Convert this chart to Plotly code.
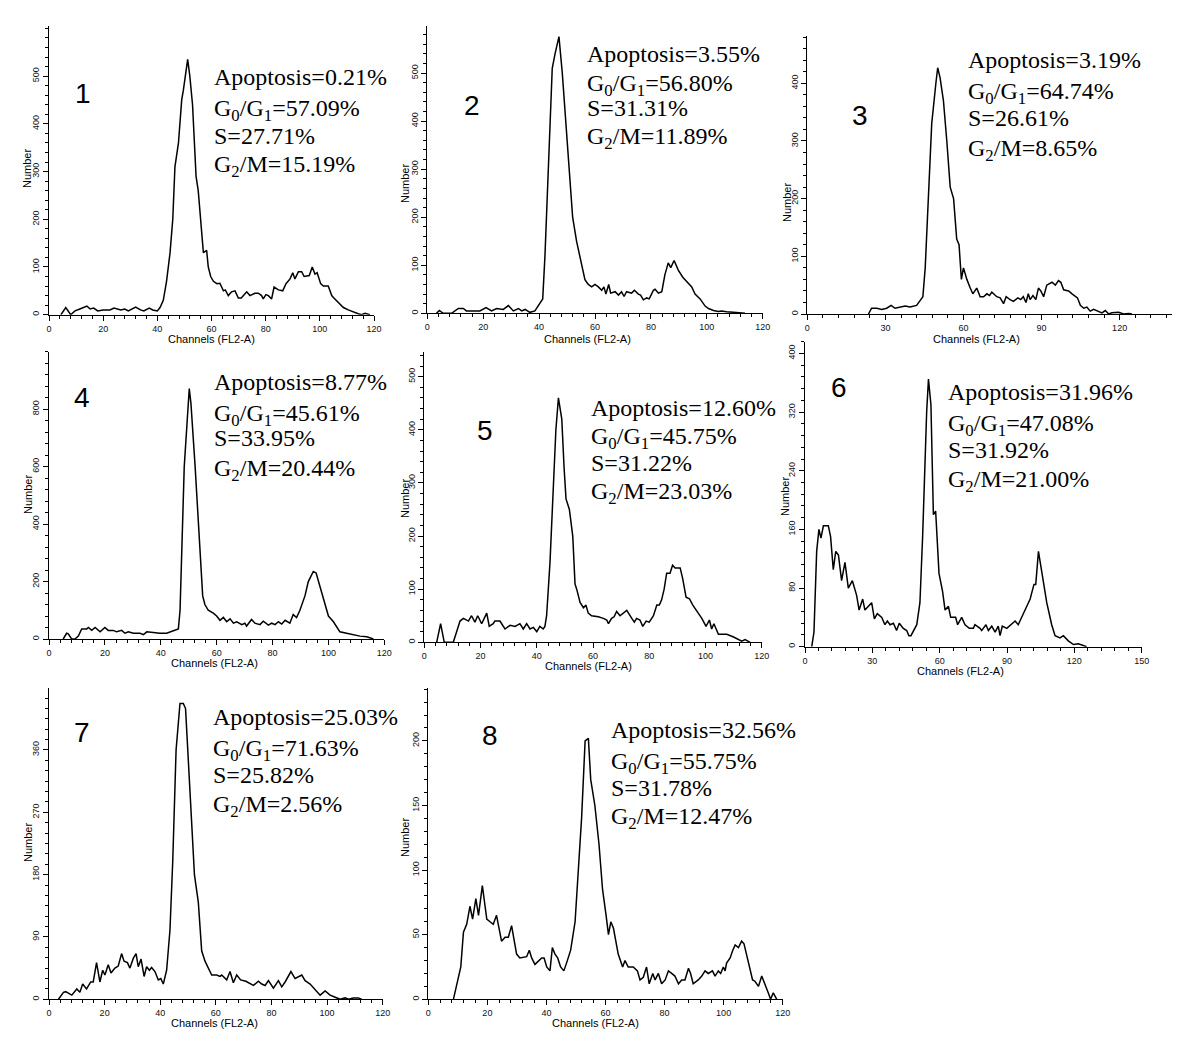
import plotly.graph_objects as go

# ---------------- data ----------------
ch1 = [4.4, 6.2, 8, 9.6, 11.4, 14, 15.2, 16.5, 18, 20, 22.5, 24, 26.5, 28, 29.3, 32, 33.8, 35, 37, 38.3, 40, 41, 42.2, 43.4, 44.7, 45.7, 46.5, 47.8, 49, 49.6, 51.2, 52, 53, 54.3, 55.1, 56.1, 57, 58.2, 58.8, 59.7, 60.7, 62, 63.1, 64.4, 65.1, 66.2, 67.4, 68.7, 69.9, 71, 73, 74.2, 76, 77.3, 78.5, 79.1, 80.1, 81, 82.2, 83.1, 84.7, 86.3, 87.5, 89, 90, 90.8, 92.1, 93.3, 94.2, 96.1, 97.2, 98.2, 99, 100.3, 101.3, 103.1, 104.4, 105, 106.8, 108.7, 110.5, 112.4, 114.2, 115.4, 116.7, 118.5]
cnt1 = [0, 15, 0, 8, 12, 18, 12, 14, 8, 10, 10, 14, 10, 12, 8, 16, 10, 8, 14, 10, 8, 15, 30, 70, 130, 200, 310, 360, 450, 470, 535, 500, 440, 290, 260, 200, 130, 135, 100, 80, 70, 65, 66, 50, 52, 40, 48, 50, 35, 35, 48, 40, 45, 45, 40, 33, 42, 40, 33, 58, 52, 50, 65, 75, 88, 75, 90, 90, 80, 82, 100, 85, 88, 65, 60, 60, 40, 36, 25, 15, 10, 5, 2, 0, 3, 0]

ch2 = [3.3, 4.3, 5.7, 8.7, 11.1, 12.9, 14, 18.8, 21, 23, 24.8, 27.2, 29, 30.8, 32.6, 33.8, 35, 36.7, 38.5, 40.3, 41.3, 42.1, 43.1, 44.7, 45.7, 47.1, 48.3, 49.5, 50.7, 52, 53.4, 55.2, 56.4, 57.6, 58.8, 60, 61.2, 62.4, 63.2, 63.9, 64.9, 65.6, 67.2, 68.4, 69.5, 70.4, 71.3, 73.1, 74.1, 75.5, 76.3, 77.3, 78.5, 79.4, 80.9, 81.5, 82.7, 83.9, 85, 86.2, 87.1, 88.3, 89.8, 91.4, 93, 94.6, 95.8, 97.6, 99.4, 100.6, 102.4, 104.1, 105.3, 107.1, 109.5, 111.3, 113.7]
cnt2 = [0, 6, 0, 0, 10, 10, 5, 5, 12, 5, 10, 8, 16, 5, 10, 5, 8, 2, 5, 20, 30, 120, 260, 510, 540, 576, 500, 400, 300, 200, 150, 100, 70, 60, 55, 60, 55, 48, 55, 40, 60, 42, 45, 38, 45, 35, 45, 42, 48, 40, 38, 28, 32, 30, 48, 50, 42, 45, 80, 105, 95, 110, 90, 75, 65, 55, 40, 30, 15, 10, 6, 4, 5, 3, 2, 1, 0]

ch3 = [23.5, 24.7, 26.7, 28.6, 30.5, 32.2, 33.7, 36.3, 37.6, 39.5, 42, 43.6, 44.4, 45.3, 47.8, 49.4, 50.1, 51, 52.3, 53.6, 54.9, 56.2, 57.4, 58.3, 59.2, 60, 61.3, 62.6, 63.6, 65.1, 66.4, 67.7, 69, 70, 70.9, 72.8, 74.1, 75.4, 76.4, 77.9, 79.2, 80.9, 82, 83, 84, 84.9, 85.6, 86.7, 87.8, 88.8, 89.7, 90.8, 92, 94, 95.3, 96.5, 97.4, 98.5, 100.4, 101.7, 103.3, 103.8, 104.9, 106.2, 107.4, 108.7, 110, 111.3, 113.2, 114.5, 115.8, 117, 119.6, 121.5, 123.5, 124.7]
cnt3 = [0, 10, 10, 8, 10, 15, 10, 12, 14, 12, 15, 25, 30, 80, 330, 400, 427, 410, 370, 300, 220, 200, 130, 120, 60, 80, 60, 45, 35, 45, 30, 30, 35, 32, 38, 30, 28, 18, 30, 25, 22, 28, 25, 30, 20, 35, 25, 32, 25, 45, 40, 30, 50, 55, 50, 58, 55, 42, 40, 35, 30, 28, 15, 10, 12, 5, 8, 5, 2, 6, 0, 2, 3, 0, 1, 0]

ch4 = [5.1, 6.3, 6.9, 8.1, 9.3, 10.5, 11.7, 13.5, 14.1, 15.3, 16.5, 18.3, 20, 21.2, 23, 24.2, 26, 27.2, 28.4, 30.2, 32.6, 33.8, 35, 37.3, 39.7, 42.1, 43.3, 45.1, 46.3, 46.9, 47.5, 48.4, 50.2, 50.8, 52.3, 53.4, 54.3, 55, 55.8, 57, 58.8, 60, 61.2, 62.4, 63.6, 64.8, 66, 67.2, 69, 70.1, 70.7, 71.9, 72.5, 73.7, 75.5, 76.7, 78.5, 79.7, 80.9, 82.1, 83.3, 84.5, 86.2, 87.4, 88.6, 89.8, 91.6, 92.8, 94.6, 95.6, 97, 98.2, 100, 101.8, 103, 104.1, 106.5, 108.9, 111.3, 113.7, 114.9, 116.1]
cnt4 = [0, 20, 18, 0, 0, 10, 35, 35, 40, 30, 40, 25, 40, 30, 30, 25, 30, 20, 25, 20, 20, 15, 25, 22, 20, 20, 25, 30, 35, 100, 300, 600, 872, 820, 600, 400, 250, 150, 120, 100, 90, 80, 65, 75, 60, 70, 55, 60, 50, 55, 45, 60, 68, 55, 50, 62, 48, 55, 50, 60, 52, 65, 55, 85, 75, 100, 150, 200, 235, 230, 180, 140, 80, 60, 40, 25, 20, 15, 10, 8, 5, 0]

ch5 = [4.4, 5.8, 7.1, 10.3, 11.5, 12.7, 13.9, 15.7, 16.8, 18, 19, 20.4, 22.2, 23.1, 24.5, 25.1, 26.9, 28.7, 30.5, 32.3, 34, 35.2, 36.4, 37.6, 38.8, 40, 41.1, 42.3, 42.9, 43.5, 44.7, 45.9, 46.8, 47.7, 48.9, 49.7, 50.4, 51.6, 52.8, 53.6, 54.2, 55.4, 56.6, 57.5, 58.3, 59.5, 61.9, 63.7, 64.9, 65.5, 66.6, 67.5, 68.4, 69.6, 70.8, 72, 73.8, 74.7, 75.5, 76.7, 77.7, 78.9, 80, 81.5, 82.7, 83.6, 84.4, 85.3, 86.2, 87.4, 88.3, 89.2, 91, 91.9, 93.1, 94.3, 95.5, 96.9, 98.7, 100.2, 101.4, 102.2, 103, 104.6, 107.6, 110, 111.7, 112.9, 114.1, 115.9]
cnt5 = [0, 35, 0, 0, 20, 40, 45, 40, 50, 38, 50, 35, 55, 30, 35, 40, 40, 25, 32, 30, 35, 25, 35, 25, 28, 20, 30, 25, 30, 50, 150, 300, 400, 460, 420, 330, 270, 250, 200, 110, 100, 75, 65, 70, 55, 50, 48, 45, 42, 35, 45, 48, 58, 50, 55, 60, 45, 38, 45, 42, 30, 40, 38, 50, 70, 70, 80, 100, 130, 130, 145, 140, 140, 120, 85, 82, 70, 60, 45, 30, 42, 25, 35, 15, 15, 10, 5, 2, 5, 0]

ch6 = [3, 4, 5.2, 6.2, 7.1, 8.2, 10.4, 11.4, 12.6, 13.7, 14.9, 16.3, 17.8, 19.3, 21.1, 23, 24.1, 25.7, 26.7, 29.7, 30.9, 32.2, 34.2, 35.6, 36.7, 37.9, 39.4, 40.8, 42, 43.8, 45.3, 46.3, 47.2, 49, 49.8, 51.2, 52.4, 54.2, 55, 56.1, 57.2, 58.2, 59.7, 61.3, 62.4, 63.9, 64.9, 67.1, 68, 69.8, 71.3, 73.2, 75, 75.7, 78, 78.7, 80.6, 81.7, 83.2, 84.7, 86.1, 86.9, 87.9, 89.9, 91.6, 93.6, 95, 97.3, 100.3, 102, 102.8, 104, 105.5, 107.7, 109.9, 111.4, 113.6, 115.1, 117.3, 119.6, 121.8, 124, 125.5]
cnt6 = [0, 20, 130, 160, 148, 165, 165, 150, 105, 130, 125, 90, 115, 80, 90, 70, 50, 65, 50, 60, 38, 45, 40, 30, 35, 30, 32, 22, 32, 25, 22, 15, 15, 25, 30, 60, 150, 320, 365, 330, 180, 185, 100, 75, 50, 55, 40, 40, 30, 40, 30, 25, 25, 30, 25, 22, 30, 22, 28, 20, 28, 15, 28, 25, 30, 35, 30, 45, 65, 85, 85, 130, 100, 60, 30, 15, 12, 15, 8, 3, 4, 1, 0]

ch7 = [3.4, 5.2, 6, 8.2, 10, 11.1, 12.1, 13.5, 15, 15.9, 17.1, 18.3, 19.3, 20.1, 21.3, 22.3, 23.7, 24.9, 26.1, 27, 28.2, 29.1, 30.3, 31.3, 32.1, 33.1, 34.2, 35.1, 36.1, 36.9, 38.1, 39.3, 40.2, 41.1, 42.3, 43.5, 44.5, 45.7, 47.1, 48.3, 49.1, 50.7, 52.3, 53.7, 54.9, 56.1, 57.3, 58.5, 60.3, 61.5, 62.1, 63.9, 65.1, 66.3, 67.5, 68.9, 70.8, 73.5, 75.3, 76.5, 77.7, 78.9, 80.7, 82.5, 83.7, 84.9, 87, 88.5, 90.9, 92.1, 93.9, 95.7, 97.5, 99.3, 101.1, 102.9, 104.7, 106.5, 107.7, 109.4, 111.2, 112.4]
cnt7 = [0, 10, 11, 6, 15, 10, 22, 15, 25, 25, 53, 25, 42, 35, 50, 38, 45, 48, 66, 55, 53, 45, 59, 66, 47, 58, 33, 47, 42, 46, 40, 28, 30, 22, 42, 100, 200, 360, 427, 427, 420, 300, 180, 140, 70, 55, 45, 35, 35, 33, 35, 28, 40, 24, 35, 28, 26, 20, 26, 22, 20, 27, 16, 27, 18, 25, 40, 30, 35, 27, 22, 14, 6, 12, 6, 3, 0, 2, 0, 2, 2, 0]

ch8 = [8.5, 9.6, 11, 11.9, 13, 14.1, 15, 16.1, 17, 18.3, 19.8, 20.9, 22, 23.1, 24, 24.8, 26, 27.1, 28.2, 29, 29.9, 31, 33.3, 34.2, 35, 36.1, 37.3, 38.4, 39.2, 40.1, 41.2, 42, 42.9, 43.8, 44.8, 45.9, 46.8, 48.2, 49.7, 50.8, 51.9, 53.1, 54.2, 55, 56.4, 57.8, 59, 60.2, 61, 61.8, 62.7, 64.3, 65.8, 66.6, 67.7, 69.4, 70.8, 71.7, 72.8, 73.9, 74.8, 76, 76.8, 77.9, 79, 80.2, 81.3, 82.4, 83.5, 84.7, 85.8, 86.9, 88.1, 88.8, 89.7, 91.4, 92.6, 93.7, 94.8, 96.2, 97.1, 98.2, 99, 99.9, 100.5, 101, 102.2, 103.1, 103.9, 105, 106.1, 106.9, 107.8, 108.9, 109.8, 110.6, 111.8, 112.9, 114, 115.1, 115.9, 116.8, 118]
cnt8 = [0, 10, 25, 52, 58, 72, 62, 78, 65, 88, 62, 60, 58, 65, 55, 45, 48, 48, 57, 45, 35, 32, 33, 38, 32, 27, 30, 32, 32, 25, 22, 40, 35, 32, 25, 22, 28, 38, 60, 100, 140, 200, 202, 170, 150, 120, 85, 65, 50, 60, 55, 35, 25, 30, 25, 25, 22, 15, 17, 25, 12, 20, 15, 20, 12, 15, 22, 20, 18, 12, 15, 15, 24, 20, 12, 15, 18, 22, 20, 22, 18, 22, 20, 25, 22, 28, 32, 38, 42, 40, 45, 43, 35, 25, 15, 14, 10, 18, 12, 5, 0, 5, 0]

panel_labels = ["1", "2", "3", "4", "5", "6", "7", "8"]
apoptosis = ["0.21%", "3.55%", "3.19%", "8.77%", "12.60%", "31.96%", "25.03%", "32.56%"]
g0g1 = ["57.09%", "56.80%", "64.74%", "45.61%", "45.75%", "47.08%", "71.63%", "55.75%"]
s_phase = ["27.71%", "31.31%", "26.61%", "33.95%", "31.22%", "31.92%", "25.82%", "31.78%"]
g2m = ["15.19%", "11.89%", "8.65%", "20.44%", "23.03%", "21.00%", "2.56%", "12.47%"]
# highest labelled y tick in each panel
y_label_max = [500, 500, 400, 800, 500, 400, 360, 200]
x_title = "Channels (FL2-A)"
y_title = "Number"

channels = [ch1, ch2, ch3, ch4, ch5, ch6, ch7, ch8]
counts = [cnt1, cnt2, cnt3, cnt4, cnt5, cnt6, cnt7, cnt8]

# ---------------- layout geometry (pixels in the target picture) ----------------
W, H = 1200, 1057
OFF = 8  # page body margin in the browser
# x0, x1, ytop, ybottom, xmax, ymax, xdtick, xminor, ydtick, yminor
geo = [
    (49.0, 374.0, 26.0, 314.7, 120, 605, 20, 4, 100, 20),
    (427.3, 762.7, 26.0, 313.3, 120, 598, 20, 4, 100, 20),
    (807.3, 1171.7, 36.0, 314.0, 140, 482, 30, 6, 100, 20),
    (49.0, 384.3, 351.7, 639.0, 120, 1000, 20, 4, 200, 40),
    (424.3, 761.7, 351.7, 642.3, 120, 547, 20, 4, 100, 20),
    (805.0, 1141.7, 341.7, 646.7, 150, 416, 30, 6, 80, 16),
    (49.0, 382.7, 688.3, 999.3, 120, 449, 20, 4, 90, 15),
    (428.3, 782.7, 688.3, 999.3, 120, 240.7, 20, 4, 50, 10),
]
# panel number centre, stats left x, stats line centres
num_pos = [(83, 93), (472, 105), (860, 115), (82, 397), (485, 430), (839, 387), (82, 732), (490, 735)]
stat_x = [212, 585, 966, 212, 589, 946, 211, 609]
stat_y = [(77, 107, 136, 163), (54, 82, 108, 135), (60, 90, 118, 147), (382, 412, 438, 467),
          (408, 435, 463, 490), (392, 422, 450, 478), (717, 747, 775, 803), (730, 760, 788, 815)]
xt_pos = [(211, 339), (587, 339), (976, 339), (215, 663), (588, 666), (960, 671), (215, 1023), (595, 1023)]
yt_pos = [(27, 169), (405, 184), (787, 203), (28, 495), (405, 499), (785, 497), (28, 843), (405, 838)]


def px(x):
    return (x - OFF) / W


def py(y):
    return 1 - (y - OFF) / H


fig = go.Figure()
annotations = []
serif = "Liberation Serif, Times New Roman, serif"
sans = "Liberation Sans, Arial, sans-serif"

for i in range(8):
    x0, x1, yt, yb, xmax, ymax, xd, xm, yd, ym = geo[i]
    n = "" if i == 0 else str(i + 1)
    fig.add_trace(go.Scatter(x=channels[i], y=counts[i], mode="lines",
                             line=dict(color="black", width=1.5),
                             xaxis="x" + n, yaxis="y" + n, showlegend=False,
                             hoverinfo="skip"))
    common = dict(showline=True, linecolor="black", linewidth=1.2, showgrid=False,
                  zeroline=False, ticks="outside", ticklen=5, tickwidth=1, tickcolor="black",
                  automargin=False,
                  tickfont=dict(family=sans, size=9, color="#111"))
    fig.layout["xaxis" + n] = dict(domain=[px(x0), px(x1)], range=[0, xmax], anchor="y" + n,
                                   tick0=0, dtick=xd,
                                   minor=dict(dtick=xm, tick0=0, ticklen=3, tickcolor="black",
                                              ticks="outside"),
                                   **common)
    yticks = list(range(0, y_label_max[i] + 1, yd))
    fig.layout["yaxis" + n] = dict(domain=[py(yb), py(yt)], range=[0, ymax], anchor="x" + n,
                                   tickmode="array", tickvals=yticks, ticktext=[str(v) for v in yticks],
                                   tickangle=-90,
                                   minor=dict(tickmode="linear", dtick=ym, tick0=0, ticklen=3,
                                              tickcolor="black", ticks="outside"),
                                   **common)

    # panel number
    annotations.append(dict(x=px(num_pos[i][0]), y=py(num_pos[i][1]), xref="paper", yref="paper",
                            text=panel_labels[i], showarrow=False, xanchor="center", yanchor="middle",
                            font=dict(family=sans, size=28, color="black")))
    lines = ["Apoptosis=" + apoptosis[i],
             "G<sub>0</sub>/G<sub>1</sub>=" + g0g1[i],
             "S=" + s_phase[i],
             "G<sub>2</sub>/M=" + g2m[i]]
    for k, t in enumerate(lines):
        yy = stat_y[i][k] + (3 if "<sub>" in t else 0)
        annotations.append(dict(x=px(stat_x[i]), y=py(yy), xref="paper", yref="paper",
                                text=t, showarrow=False, xanchor="left", yanchor="middle",
                                font=dict(family=serif, size=24, color="black")))
    annotations.append(dict(x=px(xt_pos[i][0]), y=py(xt_pos[i][1]), xref="paper", yref="paper",
                            text=x_title, showarrow=False, xanchor="center", yanchor="middle",
                            font=dict(family=sans, size=11, color="black")))
    annotations.append(dict(x=px(yt_pos[i][0]), y=py(yt_pos[i][1]), xref="paper", yref="paper",
                            text=y_title, showarrow=False, xanchor="center", yanchor="middle",
                            textangle=-90, font=dict(family=sans, size=11, color="black")))

fig.update_layout(width=W, height=H, margin=dict(l=0, r=0, t=0, b=0, autoexpand=False),
                  paper_bgcolor="white", plot_bgcolor="white",
                  annotations=annotations, showlegend=False)

fig.write_html("out.html")
